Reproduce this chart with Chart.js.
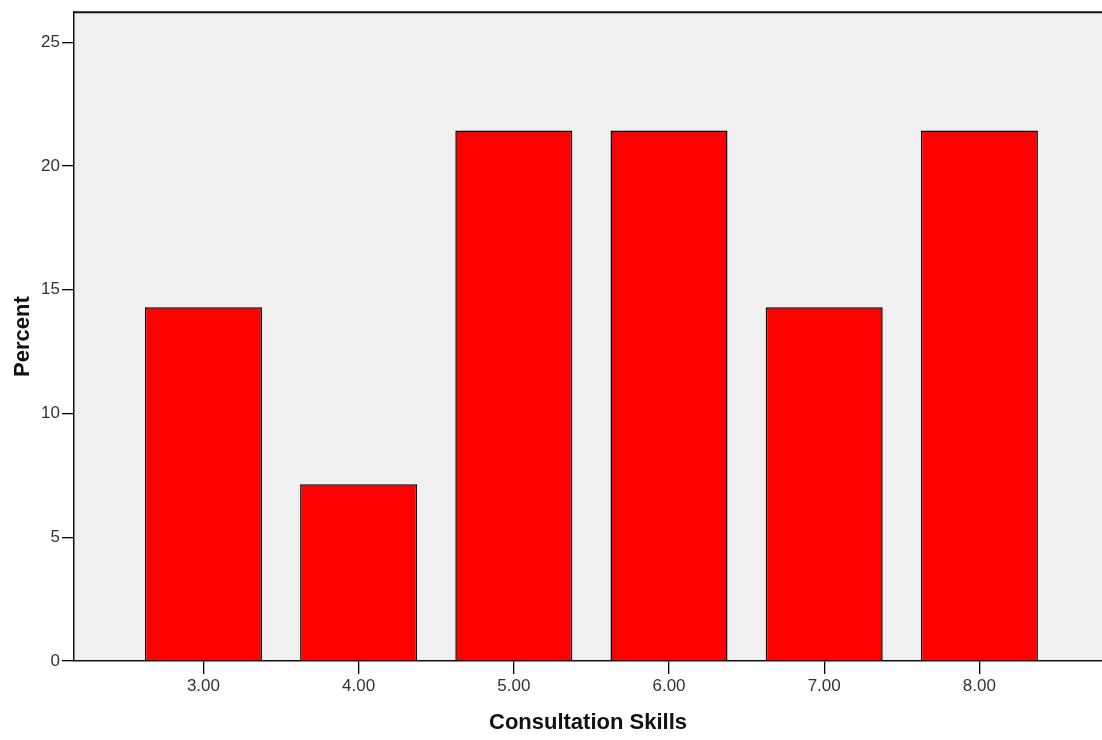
<!DOCTYPE html>
<html><head><meta charset="utf-8">
<script src="https://cdn.jsdelivr.net/npm/chart.js@4/dist/chart.umd.min.js"></script>
<style>html,body{margin:0;padding:0;background:#fff}#wrap{width:1102px;height:740px}</style>
</head><body><div id="wrap"><canvas id="c" width="1102" height="740"></canvas></div>
<script>
const categories = [3, 4, 5, 6, 7, 8];
const percentValues = [14.29, 7.14, 21.43, 21.43, 14.29, 21.43];
const yTickValues = [0, 5, 10, 15, 20, 25];
const xTitle = 'Consultation Skills';
const yTitle = 'Percent';

const tickFont = {family: "'Liberation Sans', Arial, sans-serif", size: 17};
const titleFont = {family: "'Liberation Sans', Arial, sans-serif", size: 22, weight: 'bold'};

const bgPlugin = {
  id: 'plotBg',
  beforeDraw(chart) {
    const {ctx, chartArea: a} = chart;
    ctx.save();
    ctx.fillStyle = '#f0f0f0';
    ctx.fillRect(a.left, a.top, a.right - a.left, a.bottom - a.top);
    ctx.restore();
  },
  afterDraw(chart) {
    const {ctx, chartArea: a} = chart;
    ctx.save();
    ctx.strokeStyle = '#111';
    ctx.lineWidth = 2;
    ctx.beginPath();
    ctx.moveTo(a.left, a.top);
    ctx.lineTo(a.right, a.top);
    ctx.stroke();
    ctx.restore();
  }
};

new Chart(document.getElementById('c'), {
  type: 'bar',
  data: {
    datasets: [{
      data: categories.map((c, i) => ({x: c, y: percentValues[i]})),
      backgroundColor: '#ff0000',
      borderColor: '#000000',
      borderWidth: 1.5,
      barPercentage: 0.754,
      categoryPercentage: 1.0
    }]
  },
  options: {
    responsive: false,
    animation: false,
    layout: {padding: {top: 0, right: 0, left: 0, bottom: 0}},
    plugins: {legend: {display: false}, tooltip: {enabled: false}},
    scales: {
      x: {
        type: 'linear',
        offset: false,
        min: 2.166,
        max: 8.79,
        afterBuildTicks(s) { s.ticks = categories.map(v => ({value: v})); },
        afterFit(s) { s.height = 79; },
        grid: {display: true, offset: false, drawOnChartArea: false, drawTicks: true, tickLength: 13, color: '#000', lineWidth: 1.3},
        border: {display: true, color: '#111', width: 1.5},
        ticks: {color: '#333', font: tickFont, padding: 2, maxRotation: 0, callback: v => Number(v).toFixed(2)},
        title: {display: true, text: xTitle, color: '#111', font: titleFont, padding: {top: 4, bottom: 4}}
      },
      y: {
        min: 0,
        max: 26.21,
        afterBuildTicks(s) { s.ticks = yTickValues.map(v => ({value: v})); },
        afterFit(s) { s.width = 74; },
        grid: {display: true, drawOnChartArea: false, drawTicks: true, tickLength: 12, color: '#000', lineWidth: 1.3},
        border: {display: true, color: '#111', width: 1.5},
        ticks: {color: '#333', font: tickFont, padding: 2},
        title: {display: true, text: yTitle, color: '#111', font: titleFont, padding: {top: 10, bottom: 0}}
      }
    }
  },
  plugins: [bgPlugin]
});
</script></body></html>
